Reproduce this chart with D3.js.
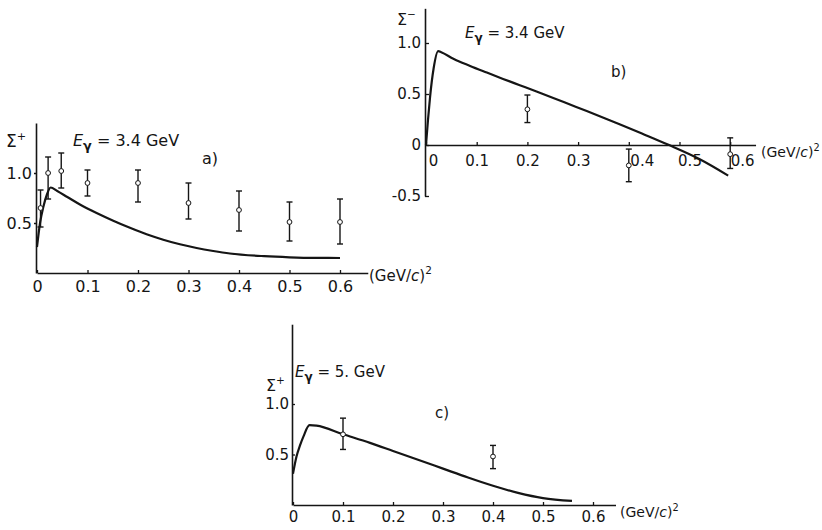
<!DOCTYPE html>
<html>
<head>
<meta charset="utf-8">
<script src="https://cdn.jsdelivr.net/npm/d3@7"></script>
<style>
  body { margin: 0; background: #fff; }
  svg { display: block; }
  text { font-family: "DejaVu Sans", sans-serif; fill: #151515; }
</style>
</head>
<body>
<div id="chart"></div>
<script>
// Panel a: Sigma+ polarisation, E_gamma = 3.4 GeV
const aCurveT = [0, 0.006, 0.0125, 0.02, 0.027, 0.04, 0.06, 0.085, 0.118, 0.151, 0.184, 0.217, 0.25, 0.283, 0.316, 0.349, 0.382, 0.45, 0.5, 0.55, 0.6];
const aCurveS = [0.26, 0.5, 0.66, 0.79, 0.855, 0.82, 0.76, 0.685, 0.6, 0.523, 0.452, 0.387, 0.333, 0.287, 0.25, 0.22, 0.195, 0.168, 0.157, 0.151, 0.15];
const aPointT = [0.007, 0.022, 0.048, 0.1, 0.2, 0.3, 0.4, 0.5, 0.6];
const aPointS = [0.65, 1.0, 1.02, 0.9, 0.9, 0.7, 0.63, 0.51, 0.51];
const aPointLo = [0.46, 0.74, 0.85, 0.77, 0.71, 0.54, 0.42, 0.32, 0.29];
const aPointHi = [0.83, 1.16, 1.2, 1.03, 1.03, 0.9, 0.82, 0.71, 0.74];
const aXTicks = [0, 0.1, 0.2, 0.3, 0.4, 0.5, 0.6];
const aYTicks = [0.5, 1.0];

// Panel b: Sigma- polarisation, E_gamma = 3.4 GeV
const bCurveT = [0, 0.004, 0.008, 0.015, 0.024, 0.03, 0.054, 0.087, 0.12, 0.152, 0.185, 0.218, 0.251, 0.284, 0.317, 0.35, 0.383, 0.43, 0.477, 0.54, 0.596];
const bCurveS = [0, 0.25, 0.47, 0.75, 0.92, 0.91, 0.845, 0.775, 0.71, 0.648, 0.586, 0.524, 0.461, 0.397, 0.333, 0.268, 0.202, 0.104, 0.004, -0.14, -0.3];
const bPointT = [0.2, 0.4, 0.6];
const bPointS = [0.35, -0.2, -0.09];
const bPointLo = [0.22, -0.36, -0.23];
const bPointHi = [0.49, -0.04, 0.07];
const bXTicks = [0, 0.1, 0.2, 0.3, 0.4, 0.5, 0.6];
const bYTicks = [-0.5, 0, 0.5, 1.0];

// Panel c: Sigma+ polarisation, E_gamma = 5 GeV
const cCurveT = [0, 0.007, 0.014, 0.021, 0.033, 0.047, 0.1, 0.154, 0.2, 0.25, 0.3, 0.35, 0.4, 0.45, 0.5, 0.558];
const cCurveS = [0.31, 0.48, 0.59, 0.68, 0.79, 0.785, 0.7, 0.615, 0.535, 0.448, 0.36, 0.272, 0.19, 0.12, 0.068, 0.04];
const cPointT = [0.1, 0.4];
const cPointS = [0.7, 0.48];
const cPointLo = [0.55, 0.36];
const cPointHi = [0.86, 0.59];
const cXTicks = [0, 0.1, 0.2, 0.3, 0.4, 0.5, 0.6];
const cYTicks = [0.5, 1.0];

const width = 822;
const height = 530;

const svg = d3.select("#chart")
  .append("svg")
  .attr("width", width)
  .attr("height", height);

// Tick label format: plain "0", otherwise one decimal.
const fmt = (d) => (d === 0 ? "0" : d.toFixed(1));

// Draws E_gamma = ... label with italic E and subscript gamma.
function energyLabel(g, x, y, value, size) {
  const t = g.append("text").attr("x", x).attr("y", y).attr("font-size", size);
  t.append("tspan").attr("font-style", "italic").text("E");
  t.append("tspan").attr("dy", size * 0.25).attr("font-size", size * 0.8).attr("font-weight", "bold").text("γ");
  t.append("tspan").attr("dy", -size * 0.25).text(" = " + value + " GeV");
}

// Draws the (GeV/c)^2 axis unit.
function unitLabel(g, x, y, size) {
  const t = g.append("text").attr("x", x).attr("y", y).attr("font-size", size);
  t.append("tspan").text("(GeV/");
  t.append("tspan").attr("font-style", "italic").text("c");
  t.append("tspan").text(")");
  t.append("tspan").attr("dy", -size * 0.45).attr("font-size", size * 0.7).text("2");
}

function drawPanel(p) {
  const g = svg.append("g");

  // Scales: pixels per unit are fixed per panel, origin at (left, zero).
  const x = d3.scaleLinear()
    .domain([0, p.xMax])
    .range([p.left, p.left + p.xMax * p.xUnit]);
  const y = d3.scaleLinear()
    .domain([p.yMin, p.yMax])
    .range([p.zero - p.yMin * p.yUnit, p.zero - p.yMax * p.yUnit]);

  // x-axis along sigma = 0.
  const gx = g.append("g")
    .attr("transform", `translate(0,${y(0)})`)
    .call(d3.axisBottom(x)
      .tickValues(p.xTicks)
      .tickFormat(fmt)
      .tickSize(-3)
      .tickSizeOuter(0)
      .tickPadding(p.xPad));
  gx.selectAll("text")
    .attr("font-size", p.font)
    .attr("font-family", "DejaVu Sans, sans-serif")
    .attr("dx", (d, i) => (p.xShift ? p.xShift[i] : 0));

  // y-axis at t = 0.
  const gy = g.append("g")
    .attr("transform", `translate(${p.left - 1},0)`)
    .call(d3.axisLeft(y)
      .tickValues(p.yTicks)
      .tickFormat(fmt)
      .tickSize(p.yTickLen)
      .tickSizeOuter(0)
      .tickPadding(p.yPad));
  gy.selectAll("text")
    .attr("font-size", p.font)
    .attr("font-family", "DejaVu Sans, sans-serif");

  g.selectAll(".domain").attr("stroke", "#151515").attr("stroke-width", 1.6);
  g.selectAll(".tick line").attr("stroke", "#151515").attr("stroke-width", 1.3);

  // Theory curve.
  const line = d3.line()
    .x((d, i) => x(p.curveT[i]))
    .y((d, i) => y(p.curveS[i]))
    .curve(d3.curveMonotoneX);
  g.append("path")
    .datum(p.curveS)
    .attr("fill", "none")
    .attr("stroke", "#151515")
    .attr("stroke-width", 2.2)
    .attr("d", line);

  // Measured points with error bars.
  const pts = g.selectAll("g.pt")
    .data(p.pointT.map((t, i) => ({ t, s: p.pointS[i], lo: p.pointLo[i], hi: p.pointHi[i] })))
    .join("g")
    .attr("class", "pt");
  pts.append("line")
    .attr("x1", (d) => x(d.t)).attr("x2", (d) => x(d.t))
    .attr("y1", (d) => y(d.lo)).attr("y2", (d) => y(d.hi))
    .attr("stroke", "#151515").attr("stroke-width", 1.4);
  pts.append("line")
    .attr("x1", (d) => x(d.t) - 3).attr("x2", (d) => x(d.t) + 3)
    .attr("y1", (d) => y(d.hi)).attr("y2", (d) => y(d.hi))
    .attr("stroke", "#151515").attr("stroke-width", 1.4);
  pts.append("line")
    .attr("x1", (d) => x(d.t) - 3).attr("x2", (d) => x(d.t) + 3)
    .attr("y1", (d) => y(d.lo)).attr("y2", (d) => y(d.lo))
    .attr("stroke", "#151515").attr("stroke-width", 1.4);
  pts.append("circle")
    .attr("cx", (d) => x(d.t))
    .attr("cy", (d) => y(d.s))
    .attr("r", 2.4)
    .attr("fill", "#fff")
    .attr("stroke", "#151515")
    .attr("stroke-width", 1);

  // Labels.
  const sig = g.append("text")
    .attr("x", p.sigma[0]).attr("y", p.sigma[1]).attr("font-size", p.font + 1);
  sig.append("tspan").text("Σ");
  sig.append("tspan").attr("dy", -7).attr("font-size", p.font * 0.7).text(p.sign);
  energyLabel(g, p.energy[0], p.energy[1], p.energyValue, p.font);
  g.append("text")
    .attr("x", p.tag[0]).attr("y", p.tag[1])
    .attr("font-size", p.font)
    .text(p.tagText);
  unitLabel(g, p.unit[0], p.unit[1], p.unitFont);
}

drawPanel({
  left: 37, xUnit: 505, xMax: 0.655,
  zero: 273, yUnit: 100, yMin: 0, yMax: 1.5,
  xTicks: aXTicks, yTicks: aYTicks,
  xPad: 8, yPad: 2, yTickLen: 2, font: 16,
  curveT: aCurveT, curveS: aCurveS,
  pointT: aPointT, pointS: aPointS, pointLo: aPointLo, pointHi: aPointHi,
  sigma: [6, 147], sign: "+",
  energy: [73, 146], energyValue: "3.4",
  tag: [202, 164], tagText: "a)",
  unit: [369, 281], unitFont: 15
});

drawPanel({
  left: 426, xUnit: 507, xMax: 0.65,
  zero: 145, yUnit: 102, yMin: -0.5, yMax: 1.34,
  xTicks: bXTicks, yTicks: bYTicks,
  xShift: [7, 0, 0, 0, 13, 10, 12],
  xPad: 10, yPad: 4, yTickLen: -4, font: 15,
  curveT: bCurveT, curveS: bCurveS,
  pointT: bPointT, pointS: bPointS, pointLo: bPointLo, pointHi: bPointHi,
  sigma: [397, 25], sign: "−",
  energy: [465, 38], energyValue: "3.4",
  tag: [611, 77], tagText: "b)",
  unit: [761, 157], unitFont: 14
});

drawPanel({
  left: 293, xUnit: 500, xMax: 0.645,
  zero: 505, yUnit: 101, yMin: 0, yMax: 1.79,
  xTicks: cXTicks, yTicks: cYTicks,
  xPad: 6, yPad: 3, yTickLen: -3, font: 15,
  curveT: cCurveT, curveS: cCurveS,
  pointT: cPointT, pointS: cPointS, pointLo: cPointLo, pointHi: cPointHi,
  sigma: [266, 391], sign: "+",
  energy: [295, 377], energyValue: "5.",
  tag: [435, 418], tagText: "c)",
  unit: [620, 517], unitFont: 14
});
</script>
</body>
</html>
